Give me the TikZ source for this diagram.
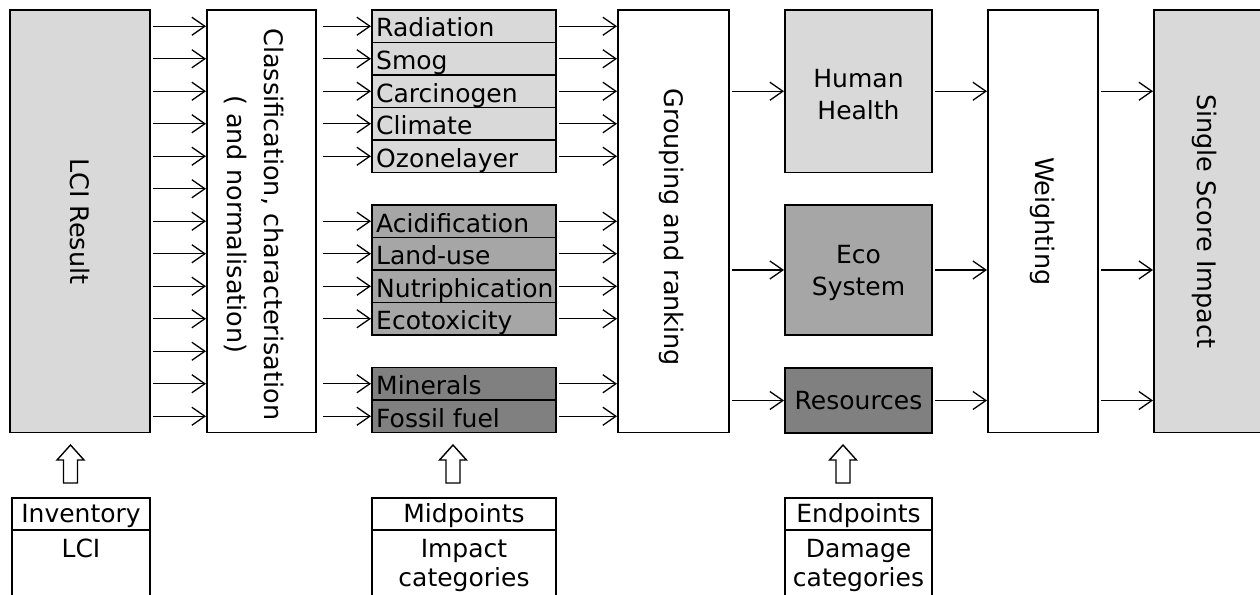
\documentclass[tikz,border=0pt]{standalone}
\usepackage{fontspec}
\setmainfont{DejaVu Sans}
\usetikzlibrary{arrows.meta,calc}
\definecolor{lightg}{HTML}{D9D9D9}
\definecolor{midg}{HTML}{A6A6A6}
\definecolor{darkg}{HTML}{808080}
\begin{document}
\begin{tikzpicture}[x=1pt,y=-1pt,
  box/.style={draw=black, line width=1.8pt, inner sep=0pt, outer sep=0pt},
  txt/.style={inner sep=0pt, font=\fontsize{25}{32}\selectfont, align=center},
  rtxt/.style={inner sep=0pt, font=\fontsize{25.5}{37}\selectfont, align=center, rotate=-90},
  rowbox/.style={box, minimum width=184pt, minimum height=32.5pt},
  rowtext/.style={anchor=base west, inner sep=0pt, font=\fontsize{25}{30}\selectfont},
  arr/.style={line width=1.3pt, -{Straight Barb[length=13pt,width=18pt,line width=1.3pt]}},
  blockarrow/.style={draw=black, line width=1.4pt, fill=white},
]
\useasboundingbox (0,0) rectangle (1260,594);

% main column boxes
\node[box, fill=lightg, minimum width=140pt, minimum height=422.5pt] (lci) at (80,221.25) {};
\node[rtxt] (lcit) at (lci.center) {LCI Result};
\node[box, fill=white, minimum width=109pt, minimum height=422.5pt] (cls) at (261.5,221.25) {};
\node[rtxt] (clst) at ($(cls.center)+(-7,3)$) {Classification, characterisation\\( and normalisation)};
\node[box, fill=white, minimum width=111pt, minimum height=422.5pt] (grp) at (673.5,221.25) {};
\node[rtxt] (grpt) at ($(grp.center)+(-2,6)$) {Grouping and ranking};
\node[box, fill=white, minimum width=110pt, minimum height=422.5pt] (wt) at (1043,221.25) {};
\node[rtxt] (wtt) at (wt.center) {Weighting};
\node[box, fill=lightg, minimum width=112pt, minimum height=422.5pt] (ss) at (1210,221.25) {};
\node[rtxt] (sst) at (1205,221.25) {Single Score Impact};

% damage categories
\node[box, fill=lightg, minimum width=147pt, minimum height=162.5pt] (hh) at (858.5,91.25) {};
\node[txt] (hht) at ($(hh.center)+(0,3)$) {Human\\Health};
\node[box, fill=midg, minimum width=147pt, minimum height=130pt] (eco) at (858.5,270) {};
\node[txt] (ecot) at ($(eco.center)+(0,3)$) {Eco\\System};
\node[box, fill=darkg, minimum width=147pt, minimum height=65pt] (res) at (858.5,400.5) {};
\node[txt] (rest) at (res.center) {Resources};

% row coordinates
\foreach \i in {0,...,12} {
  \coordinate (r\i) at (0,{26.25+32.5*\i});
  \draw[arr, shorten <=3pt, shorten >=1pt] (lci.east |- r\i) -- (cls.west |- r\i);
}

% midpoint categories
\foreach \i/\t/\c in {0/Radiation/lightg, 1/Smog/lightg, 2/Carcinogen/lightg, 3/Climate/lightg, 4/Ozonelayer/lightg, 6/Acidification/midg, 7/Land-use/midg, 8/Nutriphication/midg, 9/Ecotoxicity/midg, 11/Minerals/darkg, 12/Fossil fuel/darkg} {
  \node[rowbox, fill=\c] (m\i) at (464,{26.25+32.5*\i}) {};
  \node[rowtext] (mt\i) at ($(m\i.west)+(4,10.75)$) {\t};
  \draw[arr, shorten <=7pt, shorten >=1pt] (cls.east |- m\i) -- (m\i.west);
  \draw[arr, shorten <=3pt, shorten >=1pt] (m\i.east) -- (grp.west |- m\i);
}

% grouping -> damage -> weighting -> single score
\foreach \d in {hh,eco,res} {
  \draw[arr, shorten <=3pt, shorten >=1pt] (grp.east |- \d) -- (\d.west);
  \draw[arr, shorten <=3pt, shorten >=1pt] (\d.east) -- (wt.west |- \d);
  \draw[arr, shorten <=3pt, shorten >=1pt] (wt.east |- \d) -- (ss.west |- \d);
}

% block arrows
\foreach \x in {70.5,453,843} {
  \draw[blockarrow] (\x-7,483) -- (\x-7,460) -- (\x-13.5,460) -- (\x,445) -- (\x+13.5,460) -- (\x+7,460) -- (\x+7,483) -- cycle;
}

% bottom legend boxes
\node[box, minimum width=138pt, minimum height=32pt] (invh) at (81,514) {};
\node[box, minimum width=138pt, minimum height=66pt, anchor=north] (invb) at (invh.south) {};
\node[txt, anchor=base] (invht) at (81,522) {Inventory};
\node[txt, anchor=base] (invbt) at (81,557) {LCI};

\node[box, minimum width=184pt, minimum height=32pt] (midh) at (464,514) {};
\node[box, minimum width=184pt, minimum height=66pt, anchor=north] (midb) at (midh.south) {};
\node[txt, anchor=base] (midht) at (464,522) {Midpoints};
\node[txt, anchor=base] (midbt1) at (464,557) {Impact};
\node[txt, anchor=base] (midbt2) at (464,586) {categories};

\node[box, minimum width=147pt, minimum height=32pt] (endh) at (858.5,514) {};
\node[box, minimum width=147pt, minimum height=66pt, anchor=north] (endb) at (endh.south) {};
\node[txt, anchor=base] (endht) at (858.5,522) {Endpoints};
\node[txt, anchor=base] (endbt1) at (858.5,557) {Damage};
\node[txt, anchor=base] (endbt2) at (858.5,586) {categories};
\end{tikzpicture}
\end{document}
